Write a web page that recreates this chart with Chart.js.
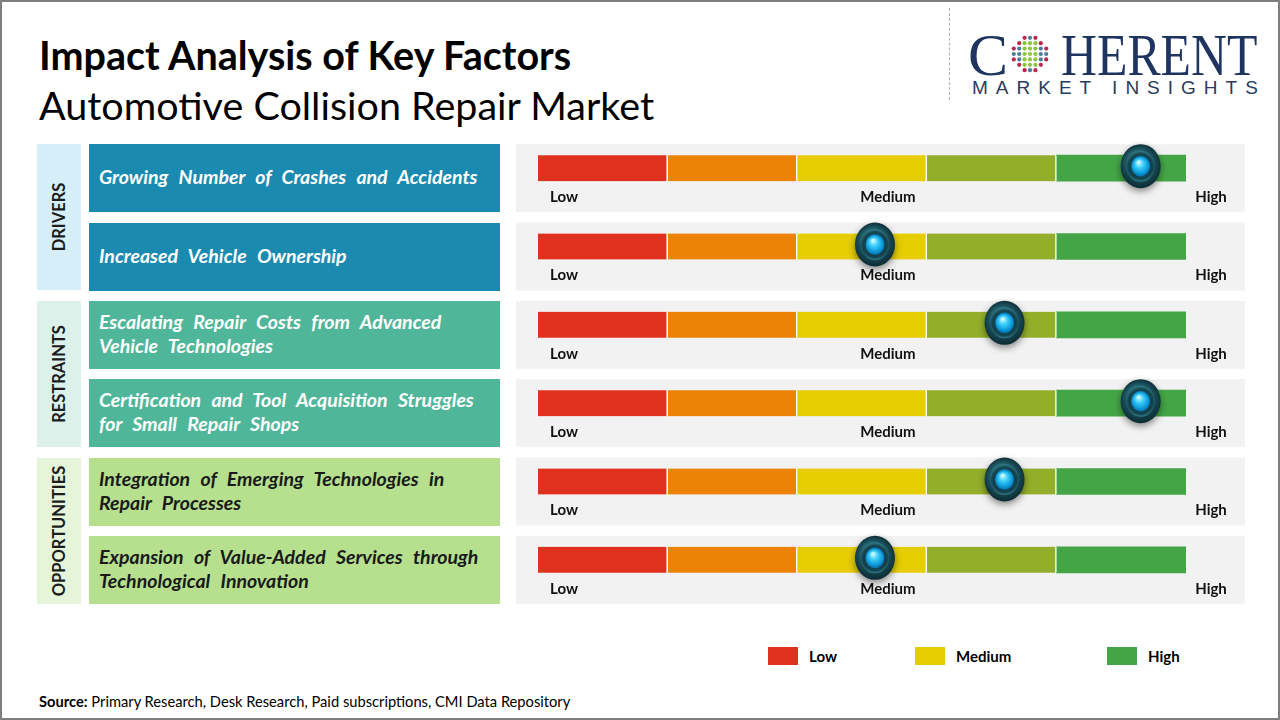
<!DOCTYPE html>
<html>
<head>
<meta charset="utf-8">
<title>Impact Analysis of Key Factors</title>
<script src="https://cdn.jsdelivr.net/npm/chart.js@4.4.1/dist/chart.umd.min.js"></script>
<style>
  html, body { margin: 0; padding: 0; }
  body {
    width: 1280px; height: 720px; position: relative; overflow: hidden;
    background: #fff; font-family: Lato, "Open Sans", sans-serif; color: #000;
  }
  .frame {
    position: absolute; left: 0; top: 0; width: 1280px; height: 720px;
    box-sizing: border-box; border: 2px solid #7f7f7f; pointer-events: none; z-index: 20;
  }
  .title { position: absolute; left: 39px; top: 35px; font-size: 39.5px; line-height: 39.5px; font-weight: 700; white-space: nowrap; }
  .subtitle { position: absolute; left: 39px; top: 85px; font-size: 39.5px; line-height: 39.5px; white-space: nowrap; }
  .divider { position: absolute; left: 949px; top: 8px; height: 92px; border-left: 1.5px dashed #b0b0b0; }
  .logo-c, .logo-rest {
    position: absolute; top: 25px; font-family: "Liberation Serif", "DejaVu Serif", serif;
    font-size: 60px; line-height: 60px; color: #1f3560; white-space: nowrap;
  }
  .logo-c { left: 968px; }
  .logo-rest { left: 1061px; transform: scaleX(0.83); transform-origin: left top; }
  #globe { position: absolute; left: 1010px; top: 34px; }
  .logo-sub {
    position: absolute; left: 972px; top: 78px; font-family: "Liberation Sans", Arial, sans-serif;
    font-size: 19px; line-height: 20px; letter-spacing: 8px; color: #2a3b5c; white-space: nowrap;
  }
  .group {
    position: absolute; left: 37px; width: 44px;
    display: flex; align-items: center; justify-content: center;
  }
  .group span {
    transform: rotate(-90deg); white-space: nowrap; font-weight: 700; font-size: 16.5px; color: #1d1d1d;
  }
  .factor {
    position: absolute; left: 89px; width: 411px; box-sizing: border-box; padding: 0 10px 2px 10px;
    display: flex; flex-direction: column; justify-content: center;
    font-weight: 700; font-style: italic; font-size: 19.5px; line-height: 24px; word-spacing: 6px;
    white-space: nowrap;
  }
  #gaugeWrap { position: absolute; left: 516px; top: 120px; width: 729px; height: 500px; }
  .legend { position: absolute; top: 647px; height: 18px; display: flex; align-items: center; font-weight: 700; font-size: 15px; }
  .legend i { display: inline-block; width: 30px; height: 18px; margin-right: 11px; }
  .source { position: absolute; left: 39px; top: 693px; font-size: 14.7px; line-height: 17px; white-space: nowrap; }
</style>
</head>
<body>
<div class="frame"></div>
<div class="title">Impact Analysis of Key Factors</div>
<div class="subtitle">Automotive Collision Repair Market</div>
<div class="divider"></div>
<div class="logo-c">C</div>
<canvas id="globe" width="40" height="40"></canvas>
<div class="logo-rest">HERENT</div>
<div class="logo-sub">MARKET INSIGHTS</div>
<div id="rows"></div>
<div id="gaugeWrap"><canvas id="gaugeChart"></canvas></div>
<div id="legend"></div>
<div class="source"><b>Source:</b> Primary Research, Desk Research, Paid subscriptions, CMI Data Repository</div>

<script>
// Factors, one line per array entry
const factorLabels = [
    ['Growing Number of Crashes and Accidents'],
    ['Increased Vehicle Ownership'],
    ['Escalating Repair Costs from Advanced', 'Vehicle Technologies'],
    ['Certification and Tool Acquisition Struggles', 'for Small Repair Shops'],
    ['Integration of Emerging Technologies in', 'Repair Processes'],
    ['Expansion of Value-Added Services through', 'Technological Innovation']
];
const factorGroups = ['DRIVERS', 'DRIVERS', 'RESTRAINTS', 'RESTRAINTS', 'OPPORTUNITIES', 'OPPORTUNITIES'];
const impactLevels = [93, 52, 72, 93, 72, 52];   // 0 = low, 100 = high
const segmentNames = ['Low', 'Low-Medium', 'Medium', 'Medium-High', 'High'];
const segmentSizes = [20, 20, 20, 20, 20];
const scaleLabels = ['Low', 'Medium', 'High'];
const legendLabels = ['Low', 'Medium', 'High'];

// styles
const segmentColors = ['#e0301e', '#ec8306', '#e5cc03', '#93ae2a', '#44a546'];
const legendColors = ['#e0301e', '#e5cc03', '#44a546'];
const groupStyles = {
    DRIVERS: { side: '#d6eef8', box: '#1a8ab0', text: '#ffffff' },
    RESTRAINTS: { side: '#dcf1ea', box: '#50b699', text: '#ffffff' },
    OPPORTUNITIES: { side: '#e6f4da', box: '#b6e08e', text: '#1a1a1a' }
};

function drawKnob(ctx, cx, cy) {
    ctx.save();
    ctx.shadowColor = 'rgba(0,0,0,0.45)';
    ctx.shadowBlur = 7;
    ctx.shadowOffsetY = 3;
    let g = ctx.createRadialGradient(cx - 4, cy - 8, 2, cx, cy, 23);
    g.addColorStop(0, '#4b9aa6');
    g.addColorStop(0.55, '#1c5561');
    g.addColorStop(1, '#0a262d');
    ctx.fillStyle = g;
    ctx.beginPath();
    ctx.ellipse(cx, cy, 20, 22, 0, 0, Math.PI * 2);
    ctx.fill();
    ctx.restore();

    ctx.save();
    g = ctx.createRadialGradient(cx, cy + 2, 4, cx, cy, 15);
    g.addColorStop(0, '#0c2e35');
    g.addColorStop(0.8, '#164752');
    g.addColorStop(1, '#2f7784');
    ctx.fillStyle = g;
    ctx.beginPath();
    ctx.ellipse(cx, cy, 14, 15.5, 0, 0, Math.PI * 2);
    ctx.fill();

    g = ctx.createRadialGradient(cx - 2, cy - 4, 1, cx, cy, 10);
    g.addColorStop(0, '#c8f6ff');
    g.addColorStop(0.35, '#3fd0fb');
    g.addColorStop(0.8, '#0b96d8');
    g.addColorStop(1, '#0a6fa5');
    ctx.fillStyle = g;
    ctx.beginPath();
    ctx.ellipse(cx, cy, 9.5, 10.5, 0, 0, Math.PI * 2);
    ctx.fill();
    ctx.restore();
}

const gaugePlugin = {
    id: 'gaugeDecor',
    beforeDatasetsDraw(chart) {
        const { ctx, scales: { y } } = chart;
        ctx.save();
        ctx.fillStyle = '#f2f2f2';
        factorLabels.forEach((_, i) => {
            const yc = y.getPixelForValue(i);
            ctx.fillRect(0, yc - 24, chart.width, 68);
        });
        ctx.restore();
    },
    afterDatasetsDraw(chart) {
        const { ctx, chartArea, scales: { x, y } } = chart;
        ctx.save();
        ctx.font = 'bold 15px Lato, sans-serif';
        ctx.fillStyle = '#111';
        ctx.textBaseline = 'middle';
        factorLabels.forEach((_, i) => {
            const ly = y.getPixelForValue(i) + 29;
            ctx.textAlign = 'left';
            ctx.fillText(scaleLabels[0], chartArea.left + 12, ly);
            ctx.textAlign = 'center';
            ctx.fillText(scaleLabels[1], x.getPixelForValue(54), ly);
            ctx.fillText(scaleLabels[2], chartArea.right + 25, ly);
        });
        ctx.restore();
        impactLevels.forEach((v, i) => {
            drawKnob(ctx, x.getPixelForValue(v), y.getPixelForValue(i) - 2);
        });
    }
};

const gaugeChart = new Chart(document.getElementById('gaugeChart'), {
    type: 'bar',
    data: {
        labels: factorLabels,
        datasets: segmentNames.map((name, s) => ({
            label: name,
            data: factorLabels.map(() => segmentSizes[s]),
            backgroundColor: segmentColors[s],
            borderColor: '#ffffff',
            borderWidth: s < segmentNames.length - 1 ? { right: 1.5, left: 0, top: 0, bottom: 0 } : 0,
            borderSkipped: false,
            barThickness: 26
        }))
    },
    options: {
        indexAxis: 'y',
        responsive: true,
        maintainAspectRatio: false,
        animation: false,
        layout: { padding: { left: 22, right: 59, top: 9, bottom: 21 } },
        scales: {
            x: { stacked: true, min: 0, max: 100, display: false },
            y: { stacked: true, display: false }
        },
        plugins: {
            legend: { display: false },
            tooltip: { enabled: false }
        }
    },
    plugins: [gaugePlugin]
});

// Left side boxes lined up with the chart rows
const wrapTop = document.getElementById('gaugeWrap').offsetTop;
const rowsEl = document.getElementById('rows');
const yScale = gaugeChart.scales.y;
const rowTop = i => wrapTop + yScale.getPixelForValue(i) - 24;
factorLabels.forEach((lines, i) => {
    const st = groupStyles[factorGroups[i]];
    const box = document.createElement('div');
    box.className = 'factor';
    box.style.top = rowTop(i) + 'px';
    box.style.height = '68px';
    box.style.background = st.box;
    box.style.color = st.text;
    box.innerHTML = lines.map(l => `<div>${l}</div>`).join('');
    rowsEl.appendChild(box);
});
[...new Set(factorGroups)].forEach(g => {
    const idx = factorGroups.map((f, i) => f === g ? i : -1).filter(i => i >= 0);
    const top = rowTop(idx[0]);
    const bottom = rowTop(idx[idx.length - 1]) + 68;
    const side = document.createElement('div');
    side.className = 'group';
    side.style.top = top + 'px';
    side.style.height = (bottom - top) + 'px';
    side.style.background = groupStyles[g].side;
    side.innerHTML = `<span>${g}</span>`;
    rowsEl.appendChild(side);
});

// Legend
const legendLeft = [768, 915, 1107];
document.getElementById('legend').innerHTML = legendLabels.map((l, i) =>
    `<div class="legend" style="left:${legendLeft[i]}px"><i style="background:${legendColors[i]}"></i>${l}</div>`
).join('');

// Logo globe
const gctx = document.getElementById('globe').getContext('2d');
for (let gy = -3; gy <= 3; gy++) {
    for (let gx = -3; gx <= 3; gx++) {
        const d = Math.hypot(gx, gy);
        if (d > 3.4) continue;
        let col = '#8cc63f';
        if (d > 2.6) col = (gx + gy) % 2 === 0 ? '#b8284f' : '#4d7c9c';
        else if (d > 1.5) col = Math.abs(gx) > Math.abs(gy) ? '#4d7c9c' : '#8cc63f';
        gctx.fillStyle = col;
        gctx.beginPath();
        gctx.arc(20 + gx * 5.4, 20 + gy * 5.4, 2.1, 0, Math.PI * 2);
        gctx.fill();
    }
}
</script>
</body>
</html>
